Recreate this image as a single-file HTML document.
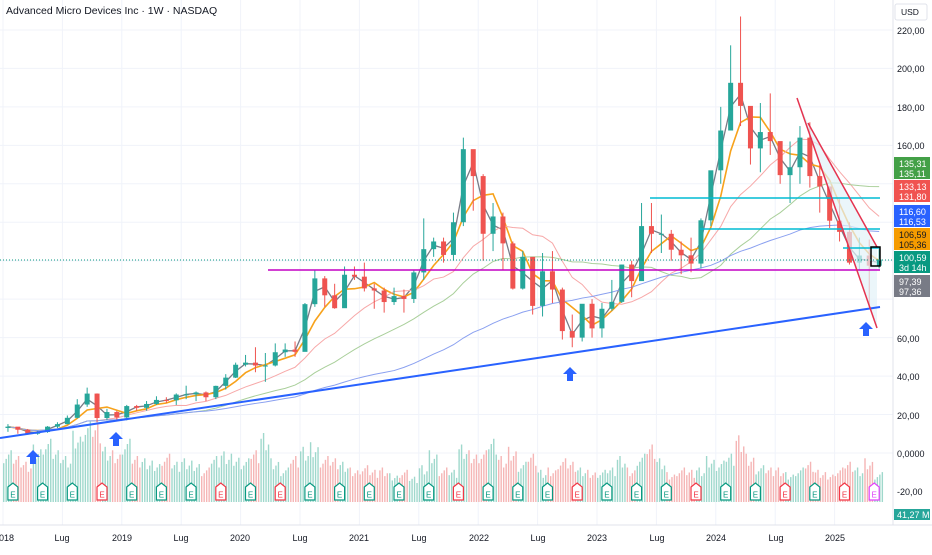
<!DOCTYPE html>
<html><head><meta charset="utf-8"><style>
body{margin:0;background:#fff;font-family:"Liberation Sans",sans-serif;}
svg text{font-family:"Liberation Sans",sans-serif;}
</style></head><body>
<svg id="c" width="932" height="550" xmlns="http://www.w3.org/2000/svg">
<rect width="932" height="550" fill="#fff"/>
<g id="grid"></g>
<g id="vol"></g>
<g id="ma"></g>
<g id="candles"></g>
<g id="draw"></g>
<g id="axis"></g>
<text x="6" y="14" font-size="10.5" fill="#131722">Advanced Micro Devices Inc · 1W · NASDAQ</text>
</svg>
<script>
const closes = [13.7,12.1,10,10.9,13.7,15,18.3,25.2,30.9,18.2,21.3,18.5,
24.4,23.5,25.5,27.6,27.4,30.4,30.5,31.5,29,34.9,39.2,45.9,
47,45.5,45.5,52.4,53.8,52.6,77.4,90.8,82,75.3,92.7,91.7,
85.6,84.5,78.5,81.6,80.1,93.9,106,110,103,120,158,144,
114,123,109,85.5,102,76.5,94.5,85,63.4,60,77.6,64.8,
75,78.6,98,89.4,118,114,114,105.7,102.8,98.5,121,147,
167.7,192.5,180.5,158.4,166.9,162.2,144.5,148.6,164,144,138.6,120.8,
115,99,102.7,97.4,100.59];
const highs = [15,13,12.5,11.5,14,16,19.5,28,34,31,23,22,
25,25,27,29.5,29,31,35,32,32,35,41,47,
51,55,52,57,57,58,78,95,92,88,97,97,
99,88,86,86,85,95,122,112,112,125,164,155,
145,130,125,110,105,100,104,105,86,72,77,80,
78,90,98,100,130,130,124,116,110,112,122,140,
180,212,227,172,182,187,158,162,170,172,150,135,
132,120,112,111,106];
const lows = [11,10,9.5,9.5,10.5,13,15,18,24,16,17,16.5,
17,22,22,25,26,25,28,27,27,28,33,39,
45,42,37,45,50,50,55,76,76,75,76,90,
84,75,73,77,73,78,90,102,99,100,118,126,
100,105,95,85,85,72,71,78,59,55,58,60,
60,74,78,81,90,104,104,100,93,94,96,118,
140,170,170,150,146,155,140,130,140,138,125,117,
110,98,95,76,96];
const volumes = [45,40,35,50,55,45,40,62,70,68,48,45,
55,40,38,36,42,35,38,36,30,40,44,42,
38,45,60,38,30,40,48,52,40,38,35,30,
32,28,30,25,28,22,32,45,30,28,50,45,
45,55,40,48,35,42,28,30,38,35,30,28,
28,30,40,30,42,50,38,26,30,28,30,40,
36,42,58,42,32,30,30,26,30,35,28,26,
30,35,30,38,26];
const yTicks = [220,200,180,160,140,120,100,80,60,40,20,0];
const xLabelMonths = [0,6,12,18,24,30,36,42,48,54,60,66,72,78,84];
const earnings = [1,4,7,10,13,16,19,22,25,28,31,34,37,40,43,46,49,52,55,58,61,64,67,70,73,76,79,82,85,88];
const earnRed = [10,22,28,46,58,70,79,85];
const NS="http://www.w3.org/2000/svg";
const X0=3, PXM=9.9, PW=893;
const x=m=>X0+m*PXM+PXM/2;
const y=p=>453-p*1.923;
const vy=v=>502-v*1.15;
function mk(tag,at,parent){const e=document.createElementNS(NS,tag);for(const k in at)e.setAttribute(k,at[k]);document.getElementById(parent).appendChild(e);return e;}
yTicks.forEach(t=>{const l=mk('line',{x1:0,x2:PW,y1:y(t),y2:y(t),stroke:'#f0f3fa'},'grid');

});
xLabelMonths.forEach(m=>{const l=mk('line',{x1:X0+m*PXM,x2:X0+m*PXM,y1:0,y2:525,stroke:'#f0f3fa'},'grid');

});
volumes.forEach((v,i)=>{const up=i==0||closes[i]>=closes[i-1];
for(let k=0;k<4;k++){const vv=v*(0.75+0.25*((k*37+i*13)%4)/3);
const r=mk('rect',{x:X0+i*PXM+k*2.48,y:vy(vv),width:1.4,height:502-vy(vv),fill:up?'#9fd8cc':'#f5b5b5'},'vol');

}});
function sma(n){return closes.map((c,i)=>{const st=Math.max(0,i-n+1);let s=0;for(let j=st;j<=i;j++)s+=closes[j];return s/(i-st+1);});}
[[2,'#787b86',1.3],[4,'#f7a21b',1.6],[10,'#f7a8a8',1],[20,'#a9cf9a',1],[40,'#8aa0f0',1]].forEach(([n,col,w])=>{
const a=sma(n);let d='';a.forEach((v,i)=>{d+=(d?'L':'M')+x(i)+','+y(v);});
const p=mk('path',{d:d,stroke:col,fill:'none','stroke-width':w},'ma');

});
closes.forEach((c,i)=>{const o=i?closes[i-1]:c*0.95;const up=c>=o;const col=up?'#26a69a':'#ef5350';
const w=mk('line',{x1:x(i),x2:x(i),y1:y(highs[i]),y2:y(lows[i]),stroke:col},'candles');


const b=mk('rect',{x:x(i)-2.5,y:y(Math.max(o,c)),width:5,height:Math.max(1,Math.abs(y(o)-y(c))),fill:col},'candles');

});
earnings.forEach(m=>{const red=earnRed.includes(m);const cx=X0+m*PXM;const col=red?'#f23645':(m==88?'#e040fb':'#089981');
const g=mk('g',{},'draw');


const p=document.createElementNS(NS,'path');p.setAttribute('d',`M${cx-5},${487}L${cx},${483}L${cx+5},${487}L${cx+5},${500}L${cx-5},${500}Z`);
p.setAttribute('fill','#fff');p.setAttribute('stroke',col);p.setAttribute('stroke-width','1.2');g.appendChild(p);
const t=document.createElementNS(NS,'text');t.setAttribute('x',cx);t.setAttribute('y',497.5);t.setAttribute('font-size','8');t.setAttribute('text-anchor','middle');t.setAttribute('fill',col);t.textContent='E';g.appendChild(t);});
</script>
<svg width="932" height="550" style="position:absolute;left:0;top:0" xmlns="http://www.w3.org/2000/svg">
<polygon points="797,98 808,123 877,247 877,328" fill="#e3f2f8" opacity="0.7"/>
<line x1="0" y1="438" x2="880" y2="307" stroke="#2962ff" stroke-width="2"/>
<line x1="268" y1="270" x2="880" y2="270" stroke="#c400c4" stroke-width="1.5"/>
<line x1="650" y1="198" x2="880" y2="198" stroke="#00bcd4" stroke-width="1.5"/>
<line x1="700" y1="229" x2="880" y2="229" stroke="#00bcd4" stroke-width="1.5"/>
<line x1="843" y1="248" x2="880" y2="248" stroke="#00bcd4" stroke-width="1.5"/>
<line x1="797" y1="98" x2="877" y2="328" stroke="#e5334f" stroke-width="1.5"/>
<line x1="808" y1="123" x2="877" y2="247" stroke="#e5334f" stroke-width="1.5"/>
<rect x="871" y="247" width="9" height="19" fill="none" stroke="#000" stroke-width="1.5"/>
<line x1="0" y1="260" x2="893" y2="260" stroke="#089981" stroke-dasharray="1,2"/>
<g fill="#2962ff">
<path d="M33,450 L40,457 L36,457 L36,464 L30,464 L30,457 L26,457Z"/>
<path d="M116,432 L123,439 L119,439 L119,446 L113,446 L113,439 L109,439Z"/>
<path d="M570,367 L577,374 L573,374 L573,381 L567,381 L567,374 L563,374Z"/>
<path d="M866,322 L873,329 L869,329 L869,336 L863,336 L863,329 L859,329Z"/>
</g>
<line x1="0" y1="525" x2="932" y2="525" stroke="#e0e3eb"/>
<line x1="893" y1="0" x2="893" y2="525" stroke="#e0e3eb"/>
<rect x="895" y="4" width="32" height="16" rx="2" fill="#fff" stroke="#e0e3eb"/>
<text x="901" y="15" font-size="8.5" fill="#131722">USD</text>
<g font-size="9" fill="#131722">
<text x="897" y="34">220,00</text><text x="897" y="72">200,00</text><text x="897" y="111">180,00</text><text x="897" y="149">160,00</text>
<text x="897" y="342">60,00</text><text x="897" y="380">40,00</text><text x="897" y="419">20,00</text><text x="897" y="457">0,0000</text><text x="897" y="495">-20,00</text>
</g>
<g font-size="9">
<rect x="894" y="157" width="36" height="22" fill="#43a047"/><text x="899" y="167" fill="#fff">135,31</text><text x="899" y="177" fill="#fff">135,11</text>
<rect x="894" y="180" width="36" height="22" fill="#f05350"/><text x="899" y="190" fill="#fff">133,13</text><text x="899" y="200" fill="#fff">131,80</text>
<rect x="894" y="205" width="36" height="22" fill="#2962ff"/><text x="899" y="215" fill="#fff">116,60</text><text x="899" y="225" fill="#fff">116,53</text>
<rect x="894" y="228" width="36" height="22" fill="#f59b00"/><text x="899" y="238" fill="#131722">106,59</text><text x="899" y="248" fill="#131722">105,36</text>
<rect x="894" y="251" width="36" height="22" fill="#089981"/><text x="899" y="261" fill="#fff">100,59</text><text x="899" y="271" fill="#fff">3d 14h</text>
<rect x="894" y="275" width="36" height="22" fill="#787b86"/><text x="899" y="285" fill="#fff">97,39</text><text x="899" y="295" fill="#fff">97,36</text>
<rect x="894" y="509" width="36" height="11" fill="#26a69a"/><text x="897" y="518" fill="#fff">41,27 M</text>
</g>
<g font-size="9" fill="#131722" text-anchor="middle">
<text x="4" y="541">2018</text><text x="62" y="541">Lug</text><text x="122" y="541">2019</text><text x="181" y="541">Lug</text><text x="240" y="541">2020</text><text x="300" y="541">Lug</text><text x="359" y="541">2021</text><text x="419" y="541">Lug</text><text x="479" y="541">2022</text><text x="538" y="541">Lug</text><text x="597" y="541">2023</text><text x="657" y="541">Lug</text><text x="716" y="541">2024</text><text x="776" y="541">Lug</text><text x="835" y="541">2025</text>
</g>
</svg>
</body></html>
